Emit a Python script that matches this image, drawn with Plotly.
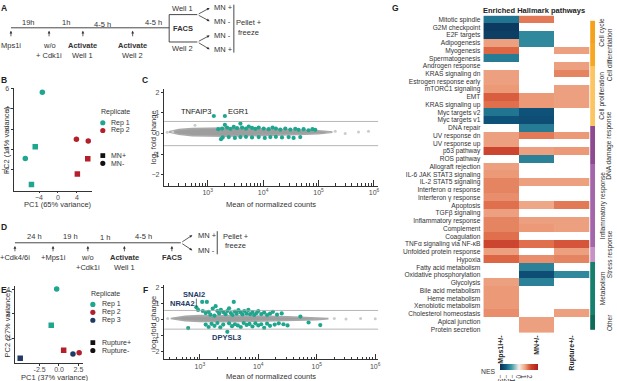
import plotly.graph_objects as go

W, H = 617, 381
FONT = "Liberation Sans, Arial, sans-serif"
TXT = "#333333"
TEAL = "#1fa68e"
RED = "#b3202c"
NAVY = "#213a64"

# ---------------- Panel B (PCA, MN) ----------------
b_pc1 = [-3.3, -4.8, -6.9, -5.6, 3.9, 6.4, 6.3, 4.1]
b_pc2 = [5.65, 0.23, -0.93, -3.5, 0.99, 0.82, -0.96, -2.46]
b_rep = ["Rep 1", "Rep 1", "Rep 1", "Rep 1", "Rep 2", "Rep 2", "Rep 2", "Rep 2"]
b_group = ["MN-", "MN+", "MN-", "MN+", "MN-", "MN-", "MN+", "MN+"]

# ---------------- Panel E (PCA, rupture) ----------------
e_pc1 = [-0.3, -1.0, 0.6, 2.6, 1.8, -5.0]
e_pc2 = [4.0, 1.05, -1.0, -1.2, -1.3, -1.65]
e_rep = ["Rep 1", "Rep 1", "Rep 2", "Rep 2", "Rep 3", "Rep 3"]
e_group = ["Rupture-", "Rupture+", "Rupture+", "Rupture-", "Rupture-", "Rupture+"]

# ---------------- Panel C (MA plot, MN+ vs MN-) ----------------
# envelope of the dense grey cloud (log10 mean counts, upper / lower log2FC)
c_cloud_log10 = [2.30, 2.48, 2.72, 3.30, 3.90, 4.50, 5.00, 5.25]
c_cloud_upper = [0.08, 0.19, 0.24, 0.27, 0.23, 0.18, 0.13, 0.07]
c_cloud_lower = [0.08, -0.03, -0.10, -0.13, -0.11, -0.06, -0.01, 0.07]
c_ns_log10 = [2.27, 2.37, 2.77, 5.30, 5.48, 5.72, 5.90]
c_ns_lfc = [0.06, 0.08, 0.40, 0.11, 0.00, 0.08, 0.11]
c_sig_log10 = [3.11, 3.31, 3.31, 3.59, 3.24,
               3.19, 3.26, 3.35, 3.41, 3.47, 3.53, 3.62, 3.69, 3.74, 3.80, 3.86, 3.92, 4.01,
               4.10, 4.17, 4.23, 4.31, 4.40, 4.49, 4.58, 4.64, 4.73, 4.82, 4.89, 4.94,
               3.27, 3.38, 3.49, 3.59, 3.69, 3.80, 3.92, 4.03, 4.13, 4.23, 4.34, 4.46, 4.55, 4.67]
c_sig_lfc = [0.85, 0.85, 0.42, 0.48, -0.27,
             0.21, 0.24, 0.29, 0.23, 0.32, 0.26, 0.29, 0.24, 0.34, 0.27, 0.23, 0.29, 0.24,
             0.21, 0.29, 0.24, 0.19, 0.24, 0.19, 0.23, 0.18, 0.21, 0.16, 0.21, 0.18,
             -0.19, -0.17, -0.21, -0.17, -0.16, -0.19, -0.17, -0.21, -0.17, -0.16, -0.19, -0.17, -0.21, -0.17]
c_labels = ["TNFAIP3", "EGR1"]
c_label_log10 = [2.78, 3.55]
c_label_lfc = [1.09, 1.09]

# ---------------- Panel F (MA plot, rupture+ vs rupture-) ----------------
f_cloud_log10 = [2.50, 2.75, 3.00, 3.50, 4.00, 4.50, 5.00, 5.20]
f_cloud_upper = [0.08, 0.22, 0.26, 0.27, 0.24, 0.18, 0.13, 0.07]
f_cloud_lower = [0.08, -0.06, -0.10, -0.12, -0.10, -0.05, 0.00, 0.07]
f_ns_log10 = [2.45, 5.30, 5.50, 5.75, 6.00]
f_ns_lfc = [0.08, 0.08, 0.05, 0.08, 0.06]
f_sig_log10 = [2.94, 3.04, 3.12, 3.58, 2.97, 3.05, 3.10, 3.15, 3.22, 3.27, 3.30, 3.33, 3.36, 3.40,
               3.44, 3.47, 3.50, 3.53, 3.56, 3.60, 3.63, 3.66, 3.70, 3.73, 3.76, 3.80, 3.83, 3.86,
               3.90, 3.93, 3.97, 4.00, 4.05, 4.10, 4.15, 4.20, 4.25, 4.32, 4.40, 4.72, 3.18, 3.25,
               2.80, 3.10, 3.15, 3.20, 3.25, 3.30, 3.35, 3.40, 3.47, 3.50, 3.55, 3.60, 3.65, 3.70,
               3.75, 3.80, 3.85, 3.90, 3.95, 4.00, 4.05, 4.10, 4.15, 4.20, 4.28, 4.35, 4.43, 4.50,
               4.86, 5.06]
f_sig_lfc = [0.78, 1.12, 1.12, 1.12, 0.62, 0.55, 0.42, 0.50, 0.70, 0.85, 0.55, 0.40, 0.62, 0.48,
             0.35, 0.55, 0.72, 0.42, 0.30, 0.52, 0.38, 0.60, 0.45, 0.33, 0.55, 0.40, 0.62, 0.35,
             0.48, 0.30, 0.42, 0.55, 0.36, 0.45, 0.30, 0.38, 0.50, 0.32, 0.40, 0.20, 0.32, 0.26,
             -0.52, -0.30, -0.45, -0.25, -0.38, -0.20, -0.48, -0.30, -0.75, -0.22, -0.40, -0.28, -0.35, -0.45,
             -0.20, -0.32, -0.26, -0.42, -0.22, -0.35, -0.28, -0.50, -0.24, -0.38, -0.30, -0.22, -0.28, -0.35,
             -0.17, -0.33]
f_labels = ["SNAI2", "NR4A2", "DPYSL3"]
f_label_log10 = [2.90, 2.70, 3.45]
f_label_lfc = [1.61, 1.03, -1.08]
lfc_threshold = 0.585

# ---------------- Panel G (heatmap) ----------------
pathways = ["Mitotic spindle", "G2M checkpoint", "E2F targets", "Adipogenesis", "Myogenesis",
            "Spermatogenesis", "Androgen response", "KRAS signaling dn", "Estrogen response early",
            "mTORC1 signaling", "EMT", "KRAS signaling up", "Myc targets v2", "Myc targets v1",
            "DNA repair", "UV response dn", "UV response up", "p53 pathway", "ROS pathway",
            "Allograft rejection", "IL-6 JAK STAT3 signaling", "IL-2 STAT5 signaling",
            "Interferon α response", "Interferon γ response", "Apoptosis", "TGFβ signaling",
            "Inflammatory response", "Complement", "Coagulation", "TNFα signaling via NF-κB",
            "Unfolded protein response", "Hypoxia", "Fatty acid metabolism",
            "Oxidative phosphorylation", "Glycolysis", "Bile acid metabolism", "Heme metabolism",
            "Xenobiotic metabolism", "Cholesterol homeostasis", "Apical junction", "Protein secretion"]
conditions = ["Mps1i+/-", "MN+/-", "Rupture+/-"]
N = None
nes_mps1 = [-1.9, -3.0, -2.9, 1.1, 1.7, -1.8, N, 1.1, 1.1, 1.2, 1.8, 1.6, -1.9, -2.5, N, 1.1, 1.1,
            2.1, N, 1.1, 1.2, 1.4, 1.4, 1.3, 1.6, 1.1, 1.4, 1.4, 1.6, 2.1, 1.1, 1.7, N, N, 1.1, 1.2,
            1.2, 1.2, 1.3, N, N]
nes_mn = [1.5, N, -1.6, -1.6, N, N, N, N, N, N, 1.2, 1.2, -2.5, -2.6, -1.8, 1.5, N, 1.1, -1.7, N,
          N, 1.1, N, N, 1.0, N, 1.1, 1.2, N, 1.6, N, 1.3, -1.7, -2.6, -1.7, N, N, N, N, 1.1, 1.1]
nes_rupture = [N, N, N, N, 1.1, N, 1.1, 1.4, N, 1.1, 1.1, 1.1, N, N, N, 1.2, N, 1.2, N, N, N, 1.1,
               N, N, 1.5, N, 1.1, 1.1, N, 1.9, 1.1, 1.4, N, -1.6, N, N, N, N, 1.1, N, N]
group_names = ["Cell cycle", "Cell differentiation", "Cell proliferation", "DNA damage response",
               "Inflammatory response", "Stress response", "Metabolism", "Other"]
group_sizes = [3, 3, 8, 5, 11, 2, 7, 2]
group_colors = ["#f5a21b", "#f6a823", "#fcc562", "#8e4a91", "#a466aa", "#c792c8", "#17806c", "#0e6b57"]
nes_ticks = [-3, -2, -1, 0, 1, 2]


def px(x):
    return x / W


def py(y):
    return 1 - y / H


fig = go.Figure()
rep_colors = {"Rep 1": TEAL, "Rep 2": RED, "Rep 3": NAVY}

# B
fig.add_trace(go.Scatter(
    x=b_pc1, y=b_pc2, mode="markers", xaxis="x", yaxis="y", showlegend=False,
    marker=dict(color=[rep_colors[r] for r in b_rep],
                symbol=["square" if g == "MN+" else "circle" for g in b_group], size=5.5)))
# E
fig.add_trace(go.Scatter(
    x=e_pc1, y=e_pc2, mode="markers", xaxis="x3", yaxis="y3", showlegend=False,
    marker=dict(color=[rep_colors[r] for r in e_rep],
                symbol=["square" if g == "Rupture+" else "circle" for g in e_group], size=5.5)))


def ma_traces(xa, ya, cl, cu, clo, nsx, nsy, sx, sy):
    cx = [10 ** v for v in cl]
    fig.add_trace(go.Scatter(x=cx + cx[::-1], y=cu + clo[::-1], fill="toself", mode="lines",
                             fillcolor="#9d9d9d", line=dict(color="#a9a9a9", width=1.6),
                             xaxis=xa, yaxis=ya, showlegend=False, hoverinfo="skip"))
    fig.add_trace(go.Scatter(x=[10 ** v for v in nsx], y=nsy, mode="markers",
                             marker=dict(color="#cccccc", size=3), xaxis=xa, yaxis=ya,
                             showlegend=False))
    fig.add_trace(go.Scatter(x=[10 ** v for v in sx], y=sy, mode="markers",
                             marker=dict(color=TEAL, size=4.2), xaxis=xa, yaxis=ya,
                             showlegend=False))


ma_traces("x2", "y2", c_cloud_log10, c_cloud_upper, c_cloud_lower, c_ns_log10, c_ns_lfc,
          c_sig_log10, c_sig_lfc)
ma_traces("x4", "y4", f_cloud_log10, f_cloud_upper, f_cloud_lower, f_ns_log10, f_ns_lfc,
          f_sig_log10, f_sig_lfc)

# G heatmap
z = [[nes_mps1[i], nes_mn[i], nes_rupture[i]] for i in range(len(pathways))]
cscale = [[0.0, "#0c2c52"], [0.15, "#0f5a82"], [0.3, "#3c9aa6"], [0.5, "#f5efe6"],
          [0.62, "#f2b79a"], [0.68, "#eb9a77"], [0.75, "#df6a48"], [0.82, "#cc442e"],
          [1.0, "#a8201a"]]
fig.add_trace(go.Heatmap(
    z=z, x=conditions, y=pathways, xaxis="x5", yaxis="y5", colorscale=cscale,
    zmin=-3.3, zmax=3.3, hoverongaps=False,
    colorbar=dict(orientation="h", x=px(521.4), xanchor="center", y=py(364), yanchor="top",
                  len=37.5, lenmode="pixels", thickness=6, xpad=0, ypad=0, outlinewidth=0,
                  tickvals=nes_ticks, ticks="", ticklabelposition="outside bottom",
                  tickfont=dict(size=6.3, color=TXT, family=FONT))))

# category strip
gidx = []
for i, s in enumerate(group_sizes):
    gidx += [i] * s
ng = len(group_names)
gscale = []
for i, c in enumerate(group_colors):
    gscale += [[i / ng, c], [(i + 1) / ng, c]]
fig.add_trace(go.Heatmap(z=[[g] for g in gidx], x=[0], y=pathways, xaxis="x6", yaxis="y6",
                         colorscale=gscale, zmin=-0.5, zmax=ng - 0.5, showscale=False,
                         hoverinfo="skip"))

tickfont = dict(size=7, color="#4d4d4d", family=FONT)
base = dict(showline=True, linecolor="#333", linewidth=0.8, ticks="outside", ticklen=2.5,
            tickwidth=0.8, tickcolor="#333", tickfont=tickfont, showgrid=False, zeroline=False)
pca_x = dict(base, ticklen=2, ticklabelstandoff=-2)

minor_vals = [m * 10 ** d for d in range(2, 7) for m in range(2, 10)]
logax = dict(base, type="log", tickvals=[1e3, 1e4, 1e5, 1e6],
             ticktext=["10<sup>3</sup>", "10<sup>4</sup>", "10<sup>5</sup>", "10<sup>6</sup>"],
             ticks="inside", ticklen=6,
             minor=dict(ticks="inside", ticklen=3, tickwidth=0.6, tickcolor="#333",
                        tickvals=minor_vals))

layout = dict(
    width=W, height=H, margin=dict(l=0, r=0, t=0, b=0),
    paper_bgcolor="white", plot_bgcolor="white", showlegend=False,
    font=dict(family=FONT, color=TXT),
    xaxis=dict(pca_x, domain=[px(14), px(92)], range=[-9.3, 7.1], tickvals=[-4, 0, 4], anchor="y"),
    yaxis=dict(base, domain=[py(189), py(86)], range=[-4.1, 6.04], tickvals=[-2, 0, 2, 4, 6],
               anchor="x"),
    xaxis2=dict(logax, domain=[px(165), px(380)], range=[2.215, 6.075], anchor="y2"),
    yaxis2=dict(base, domain=[py(184.3), py(87)], range=[-2.53, 2.14],
                tickvals=[-2, -1, 0, 1, 2], anchor="x2"),
    xaxis3=dict(pca_x, domain=[px(15), px(83.3)], range=[-5.68, 3.08], tickvals=[-2.5, 0, 2.5],
                ticktext=["-2.5", "0.0", "2.5"], anchor="y3"),
    yaxis3=dict(base, domain=[py(362.7), py(285)], range=[-2.02, 4.27], tickvals=[0, 2, 4],
                anchor="x3"),
    xaxis4=dict(logax, domain=[px(165), px(380)], range=[2.39, 6.05], anchor="y4"),
    yaxis4=dict(base, domain=[py(359.3), py(284)], range=[-2.48, 2.19],
                tickvals=[-2, -1, 0, 1, 2], anchor="x4"),
    xaxis5=dict(domain=[px(485.7), px(592.7)], anchor="y5", showline=False, ticks="",
                tickangle=-90, showgrid=False, zeroline=False,
                tickfont=dict(size=7, color="#222", family=FONT, weight="bold")),
    yaxis5=dict(domain=[py(332.7), py(12.7)], anchor="x5", autorange="reversed",
                showline=False, ticks="", showgrid=False, zeroline=False, ticklabelstandoff=2,
                tickmode="array", tickvals=pathways, ticktext=pathways,
                tickfont=dict(size=6.6, color="#333", family=FONT)),
    xaxis6=dict(domain=[px(593), px(598)], anchor="y6", visible=False),
    yaxis6=dict(domain=[py(332.7), py(12.7)], anchor="x6", autorange="reversed", visible=False),
)

ann = []
shapes = []


def txt(x, y, s, size=7.5, bold=False, anchor="center", color=TXT, angle=0):
    ann.append(dict(x=px(x), y=py(y), xref="paper", yref="paper", text=s, showarrow=False,
                    xanchor=anchor, yanchor="middle", textangle=angle,
                    font=dict(size=size, color=color, family=FONT,
                              weight="bold" if bold else "normal")))


def arrow(xh, yh, xt, yt):
    ann.append(dict(x=px(xh), y=py(yh), xref="paper", yref="paper", text="", showarrow=True,
                    ax=xt - xh, ay=yt - yh, arrowhead=2, arrowsize=0.7, arrowwidth=0.8,
                    arrowcolor="#333"))


def line(x0, y0, x1, y1, w=0.9, color="#333"):
    shapes.append(dict(type="line", xref="paper", yref="paper", x0=px(x0), y0=py(y0),
                       x1=px(x1), y1=py(y1), line=dict(color=color, width=w)))


# panel letters
for (lx, ly, l) in [(4, 5, "A"), (4, 78, "B"), (146, 78, "C"), (4, 226, "D"), (4, 289, "E"),
                    (146, 289, "F"), (397, 5, "G")]:
    txt(lx, ly, l, size=8.5, bold=True, color="#222")

# ----- A schematic -----
line(11, 25, 170, 25)
line(170, 11.7, 170, 39.3)
line(170, 11.7, 198.3, 11.7)
line(170, 39.3, 198.3, 39.3)
for ax_ in [11, 49.3, 83.3, 133.3]:
    arrow(ax_, 28, ax_, 35)
txt(11, 43, "Mps1i")
txt(49.3, 43, "w/o")
txt(49.3, 52.5, "+ Cdk1i")
txt(83.3, 43, "Activate", bold=True)
txt(83.3, 52.5, "Well 1")
txt(133.3, 43, "Activate", bold=True)
txt(133.3, 52.5, "Well 2")
txt(28.3, 20, "19h")
txt(66.7, 20, "1h")
txt(102.7, 21.5, "4-5 h")
txt(154, 20, "4-5 h")
txt(183.3, 6, "Well 1")
txt(184, 25.5, "FACS", bold=True)
txt(183.3, 46, "Well 2")
arrow(210.7, 5, 198.3, 11.7)
arrow(210.7, 18.3, 198.3, 11.7)
arrow(210.7, 32.7, 198.3, 39.3)
arrow(210.7, 46.7, 198.3, 39.3)
for yy, s in [(5, "MN +"), (18.3, "MN -"), (32.7, "MN -"), (46.7, "MN +")]:
    txt(213.5, yy, s, anchor="left")
line(235, 1.7, 235, 50)
txt(250, 20, "Pellet +")
txt(250, 29.3, "freeze")

# ----- D schematic -----
line(15, 241.7, 181.7, 241.7)
for ax_ in [15, 53.3, 88.3, 125, 172.7]:
    arrow(ax_, 245, ax_, 251.7)
txt(15, 257, "+Cdk4/6i")
txt(53.3, 257, "+Mps1i")
txt(88.3, 257, "w/o")
txt(88.3, 267, "+Cdk1i")
txt(125, 257, "Activate", bold=True)
txt(125, 267, "Well 1")
txt(172.7, 257, "FACS", bold=True)
txt(35, 235, "24 h")
txt(71, 235, "19 h")
txt(106, 236.5, "1 h")
txt(144.3, 235, "4-5 h")
arrow(193.3, 234, 181.7, 241.7)
arrow(193.3, 249.3, 181.7, 241.7)
txt(196.5, 234, "MN +", anchor="left")
txt(196.5, 249.3, "MN -", anchor="left")
line(218.3, 230, 218.3, 253.3)
txt(236.7, 235.7, "Pellet +")
txt(236.7, 244.5, "freeze")

# ----- axis titles -----
txt(7, 138, "PC2 (14% variance)", angle=-90)
txt(58, 203.5, "PC1 (65% variance)")
txt(155, 135, "log<sub>2</sub> fold change", angle=-90)
txt(272, 203, "Mean of normalized counts")
txt(7, 323, "PC2 (27% variance)", angle=-90)
txt(55, 377, "PC1 (37% variance)")
txt(155, 322, "log<sub>2</sub> fold change", angle=-90)
txt(272, 376.5, "Mean of normalized counts")


# ----- legends (B, E) -----
def leg_circle(cx, cy, color, r=2.6):
    shapes.append(dict(type="circle", xref="paper", yref="paper", x0=px(cx - r), x1=px(cx + r),
                       y0=py(cy + r), y1=py(cy - r), fillcolor=color, line=dict(width=0)))


def leg_square(cx, cy, color, r=2.4):
    shapes.append(dict(type="rect", xref="paper", yref="paper", x0=px(cx - r), x1=px(cx + r),
                       y0=py(cy + r), y1=py(cy - r), fillcolor=color, line=dict(width=0)))


LEG = 7
txt(99.5, 110, "Replicate", anchor="left", size=LEG)
for i, r in enumerate(["Rep 1", "Rep 2"]):
    leg_circle(103.3, 120.7 + i * 7.8, rep_colors[r])
    txt(110, 120.7 + i * 7.8, r, anchor="left", size=LEG)
leg_square(103.3, 153.8, "#111")
txt(110, 153.8, "MN+", anchor="left", size=LEG)
leg_circle(103.3, 161.6, "#111")
txt(110, 161.6, "MN-", anchor="left", size=LEG)

txt(89.5, 293, "Replicate", anchor="left", size=LEG)
for i, r in enumerate(["Rep 1", "Rep 2", "Rep 3"]):
    leg_circle(93.3, 303.8 + i * 8.0, rep_colors[r])
    txt(100, 303.8 + i * 8.0, r, anchor="left", size=LEG)
leg_square(93.3, 342.3, "#111")
txt(100, 342.3, "Rupture+", anchor="left", size=LEG)
leg_circle(93.3, 350.3, "#111")
txt(100, 350.3, "Rupture-", anchor="left", size=LEG)

# ----- MA plot threshold lines and labels -----
for ya in ["y2", "y4"]:
    xa = "x2" if ya == "y2" else "x4"
    for v in [lfc_threshold, -lfc_threshold]:
        shapes.append(dict(type="line", xref=xa + " domain", yref=ya, x0=0, x1=1, y0=v, y1=v,
                           line=dict(color="#a3a3a3", width=0.8)))
for s, lx, ly in zip(c_labels, c_label_log10, c_label_lfc):
    ann.append(dict(x=lx, y=ly, xref="x2", yref="y2", text=s, showarrow=False,
                    font=dict(size=7.5, color="#222", family=FONT)))
for s, lx, ly in zip(f_labels, f_label_log10, f_label_lfc):
    ann.append(dict(x=lx, y=ly, xref="x4", yref="y4", text=s, showarrow=False,
                    font=dict(size=7.5, color=NAVY, family=FONT, weight="bold")))
ann.append(dict(x=f_sig_log10[0], y=f_sig_lfc[0], xref="x4", yref="y4", text="",
                showarrow=True, arrowhead=0, arrowwidth=0.7, arrowcolor="#333",
                axref="x4", ayref="y4", ax=f_sig_log10[0], ay=1.42))

# ----- heatmap title, NES label, group labels -----
txt(537, 7.5, "Enriched Hallmark pathways", size=7.5, bold=True, color="#222")
txt(499, 371.5, "NES", size=6.8, anchor="right")
start = 0
for i, (g, s) in enumerate(zip(group_names, group_sizes)):
    center = start + (s - 1) / 2
    start += s
    ann.append(dict(x=px(605.5 if i % 2 == 0 else 612.5), y=center, xref="paper", yref="y6",
                    text=g, showarrow=False, textangle=-90, xanchor="center", yanchor="middle",
                    font=dict(size=6.6, color="#333", family=FONT)))

layout["annotations"] = ann
layout["shapes"] = shapes
fig.update_layout(**layout)
fig.write_html("out.html", config={"displayModeBar": False},
               post_script="document.body.style.margin='0';document.body.style.padding='0';")
